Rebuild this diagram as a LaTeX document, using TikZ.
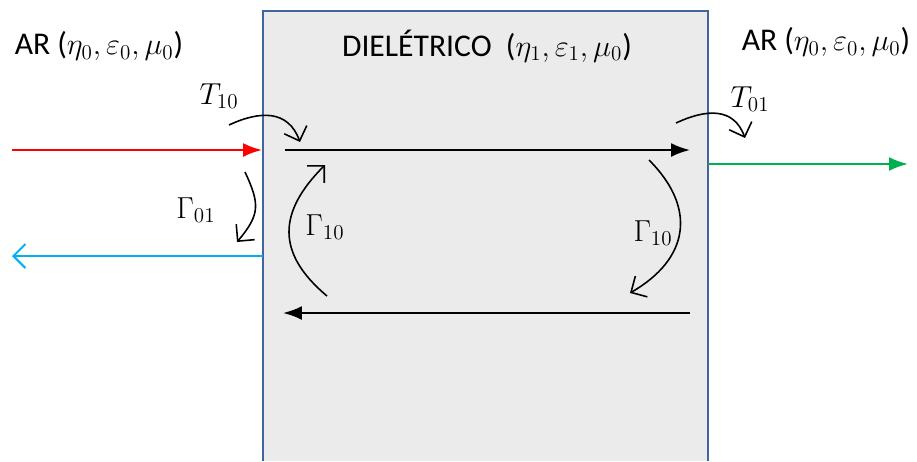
\documentclass[tikz,border=0pt]{standalone}
\usepackage{fontspec}
\setmainfont{Carlito}
\usetikzlibrary{arrows.meta}
\definecolor{boxblue}{HTML}{41659F}
\definecolor{boxgray}{HTML}{EBEBEB}
\definecolor{incred}{HTML}{FF0000}
\definecolor{reflblue}{HTML}{00B0F0}
\definecolor{transgreen}{HTML}{00B050}

\begin{document}
\begin{tikzpicture}[
    x=0.02cm, y=-0.02cm,
    every node/.style={font=\fontsize{18}{22}\selectfont, inner sep=1pt},
    wave/.style={line width=1.2pt, -{Latex[length=3.8mm,width=2.8mm]}},
    openwave/.style={line width=1.2pt, -{Straight Barb[length=2.4mm,width=4.8mm]}},
    bounce/.style={line width=0.9pt, -{Straight Barb[length=2.4mm,width=4.8mm]}}
]
\useasboundingbox (0,0) rectangle (917,461);

% dielectric slab
\fill[boxgray] (263,11) rectangle (708,461);
\draw[boxblue, line width=1pt] (263,461) -- (263,11) -- (708,11) -- (708,461);

% media labels
\node (arleft) at (99,46) {AR ($\eta_0, \varepsilon_0, \mu_0$)};
\node (diel) at (487,46) {DIELÉTRICO\ \ ($\eta_1, \varepsilon_1, \mu_0$)};
\node (arright) at (826,42) {AR ($\eta_0, \varepsilon_0, \mu_0$)};

% wave end points
\coordinate (incstart) at (12,150);
\coordinate (incend) at (262,150);
\coordinate (reflstart) at (263,256);
\coordinate (reflend) at (12,256);
\coordinate (transstart) at (708,164);
\coordinate (transend) at (908,164);
\coordinate (fwdstart) at (285,150);
\coordinate (fwdend) at (690,150);
\coordinate (backstart) at (690,313);
\coordinate (backend) at (283,313);

\draw[wave, incred] (incstart) -- (incend);
\draw[openwave, reflblue] (reflstart) -- (reflend);
\draw[wave, transgreen] (transstart) -- (transend);
\draw[wave] (fwdstart) -- (fwdend);
\draw[wave] (backstart) -- (backend);

% coefficient arrows
\coordinate (t10a) at (229,125);
\coordinate (t10b) at (300,142);
\coordinate (g01a) at (245,172);
\coordinate (g01b) at (237,242);
\coordinate (g10la) at (327,296);
\coordinate (g10lb) at (325,165);
\coordinate (g10ra) at (649,160);
\coordinate (g10rb) at (630,293);
\coordinate (t01a) at (676,123);
\coordinate (t01b) at (745,138);

\draw[bounce] (t10a) to[out=25, in=110, looseness=1.2] (t10b);
\draw[bounce] (g01a) to[out=-65, in=50, looseness=1.3] (g01b);
\draw[bounce] (g10la) to[out=140, in=-135, looseness=1.3] (g10lb);
\draw[bounce] (g10ra) to[out=-45, in=30, looseness=1.3] (g10rb);
\draw[bounce] (t01a) to[out=25, in=110, looseness=1.2] (t01b);

\node (t10) at (219,96) {$T_{10}$};
\node (g01) at (196,210) {$\Gamma_{01}$};
\node (g10l) at (325,227) {$\Gamma_{10}$};
\node (g10r) at (653,233) {$\Gamma_{10}$};
\node (t01) at (750,99) {$T_{01}$};
\end{tikzpicture}
\end{document}
